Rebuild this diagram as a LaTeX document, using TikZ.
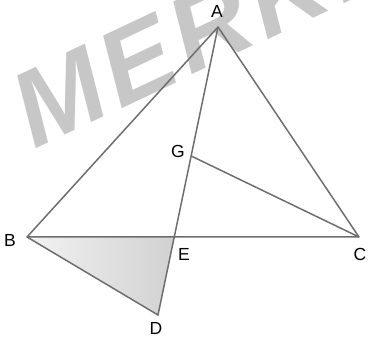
\documentclass[tikz,border=0pt]{standalone}
\usepackage{fontspec}
\setmainfont{Liberation Sans}
\begin{document}
\begin{tikzpicture}[x=1pt,y=1pt,
  seg/.style={draw=black!57, line width=1.5pt},
  lbl/.style={font=\fontsize{17.5}{17.5}\selectfont, inner sep=0pt}]
\useasboundingbox (0,0) rectangle (368,337);
\clip (0,0) rectangle (368,337);
% watermark
\node[anchor=base west, rotate=25.3, inner sep=0pt, text=black!22,
  font=\fontsize{107}{107}\selectfont\bfseries\itshape\addfontfeature{LetterSpace=6}] (wm) at (34,187) {MERKEZ};
% points
\coordinate (A) at (218,310);
\coordinate (B) at (27,100);
\coordinate (C) at (359,100);
\coordinate (E) at (174.3,100);
\coordinate (D) at (158,22);
\coordinate (G) at (191.2,181);
\shade[left color=black!5, right color=black!18] (B) -- (E) -- (D) -- cycle;
\draw[seg, line join=round] (B) -- (A) -- (C) -- cycle;
\draw[seg] (A) -- (D) -- (B);
\draw[seg] (G) -- (C);
% labels
\node[lbl] (lA) at (217,326) {A};
\node[lbl] (lB) at (10,97) {B};
\node[lbl] (lC) at (360,83) {C};
\node[lbl] (lE) at (184,83) {E};
\node[lbl] (lD) at (156,8.5) {D};
\node[lbl] (lG) at (178,186) {G};
\end{tikzpicture}
\end{document}
